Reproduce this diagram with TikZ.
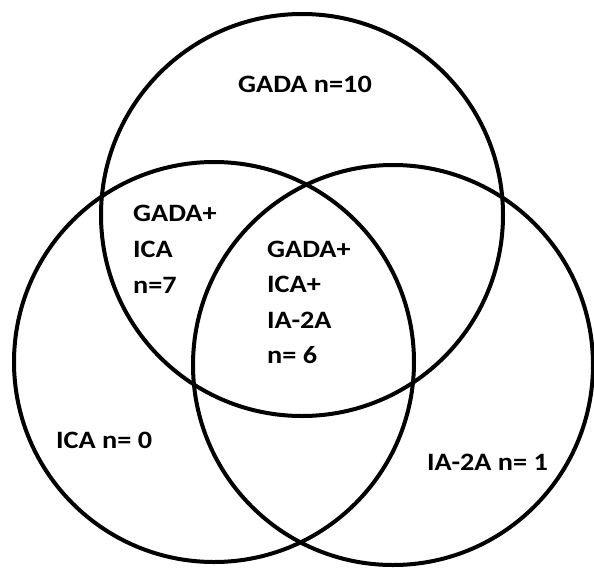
\documentclass[tikz,border=0pt]{standalone}
\usepackage{fontspec}
\setmainfont{Carlito}
\usepackage{graphicx}
\newcommand{\widen}[1]{\scalebox{1.13}[1]{#1}}
\tikzset{
  ring/.style={black, line width=4pt},
  lbl/.style={anchor=base west, inner sep=0, font=\fontsize{25}{30}\selectfont\bfseries}
}

\begin{document}
\begin{tikzpicture}[x=1pt, y=-1pt]
\useasboundingbox (0,0) rectangle (594,568);
% the three sets
\draw[ring] (302,215) circle (201);
\draw[ring] (214,362) circle (200);
\draw[ring] (393,365) circle (200);
% counts
\node[lbl] (gada) at (238,92) {\widen{GADA n=10}};
\foreach \t [count=\i] in {GADA+,ICA,n=7} {
  \node[lbl] (gi\i) at (133,{221+36*(\i-1)}) {\widen{\t}};
}
\foreach \t [count=\i] in {GADA+,ICA+,IA-2A,n= 6} {
  \node[lbl] (all\i) at (267,{257+35.5*(\i-1)}) {\widen{\t}};
}
\node[lbl] (ica) at (56,448) {\widen{ICA n= 0}};
\node[lbl] (ia) at (427,470) {\widen{IA-2A n= 1}};
\end{tikzpicture}
\end{document}
